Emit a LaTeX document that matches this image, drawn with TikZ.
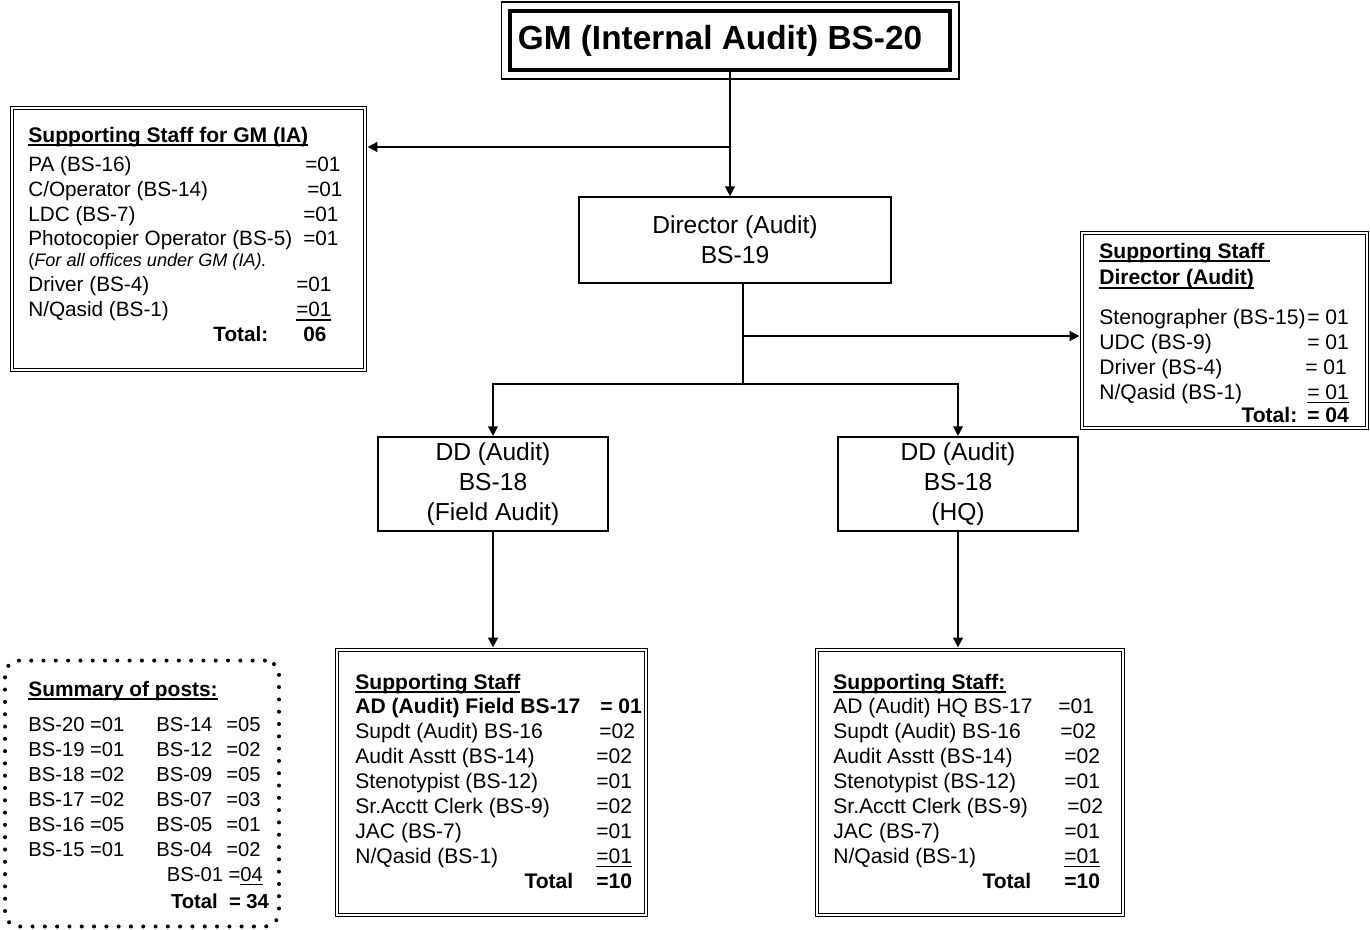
\documentclass[tikz,border=0pt]{standalone}
\usepackage{fontspec}
\setmainfont{Liberation Sans}
\usepackage{array}
\usetikzlibrary{arrows.meta,positioning,calc}
\newcommand{\staffline}[1]{\leavevmode\setbox0\hbox{#1}\rlap{\rule[-2.3pt]{\wd0}{1pt}}\box0}

\begin{document}
\begin{tikzpicture}[
    x=0.02cm,y=-0.02cm,
    >={Triangle[length=5.5pt,width=5.5pt]},
    link/.style={line width=1pt},
    officebox/.style={draw,line width=1pt,align=center,font=\fontsize{14}{17}\selectfont},
    staffbox/.style={draw,line width=0.6pt,double,double distance=1.3pt},
    summarybox/.style={draw,line width=2.3pt,line cap=round,dash pattern=on 0pt off 7pt,rounded corners=8pt},
    stafftext/.style={anchor=base west,inner sep=0pt,font=\fontsize{12}{14.17}\selectfont}
]
\useasboundingbox (0,0) rectangle (1370,930);

% Head office
\node[draw,line width=2.3pt,minimum width=8.8cm,minimum height=1.18cm,font=\bfseries\fontsize{19}{22}\selectfont] (gm) at (730,40.5) {GM (Internal Audit) BS-20\hspace*{0.4cm}};
\draw[line width=0.6pt] ([shift={(-7,-7)}]gm.north west) rectangle ([shift={(7,7)}]gm.south east);

% Director and deputy directors
\node[officebox,minimum width=6.24cm,minimum height=1.72cm] (director) at (735,240) {Director (Audit)\\BS-19};
\node[officebox,minimum width=4.6cm,minimum height=1.88cm] (ddfield) at (493,484) {DD (Audit)\\BS-18\\(Field Audit)};
\node[officebox,minimum width=4.8cm,minimum height=1.88cm] (ddhq) at (958,484) {DD (Audit)\\BS-18\\(HQ)};

% Staff frames
\node[staffbox,minimum width=7.06cm,minimum height=5.24cm] (gmstaff) at (188.5,239) {};
\node[staffbox,minimum width=5.7cm,minimum height=3.9cm] (dirstaff) at (1224.5,330.5) {};
\node[staffbox,minimum width=6.18cm,minimum height=5.3cm] (fieldstaff) at (491.5,782.5) {};
\node[staffbox,minimum width=6.12cm,minimum height=5.3cm] (hqstaff) at (970,782.5) {};
\node[summarybox,minimum width=5.48cm,minimum height=5.32cm] (summary) at (142,793.5) {};

% Staff for GM
\node[stafftext,font=\fontsize{11.8}{14.17}\selectfont] (gmstafftxt) at (28,142) {%
\begin{tabular}[t]{@{}w{l}{5.5cm}@{}l@{}}
\multicolumn{2}{@{}l@{}}{\bfseries\fontsize{12}{14.17}\selectfont\staffline{Supporting Staff for GM (IA)}}\\[2.5pt]
PA (BS-16) & \hspace{0.04cm}=01\\
C/Operator (BS-14) & \hspace{0.08cm}=01\\
LDC (BS-7) & =01\\
Photocopier Operator (BS-5) & =01\\[-2.3pt]
\multicolumn{2}{@{}l@{}}{\fontsize{10.3}{12}\selectfont(\textit{For all offices under GM (IA).}}\\
Driver (BS-4) & \hspace{-0.14cm}=01\\
N/Qasid (BS-1) & \hspace{-0.14cm}\staffline{=01}\\
\hfill\textbf{Total:}\hspace*{0.7cm} & \textbf{06}
\end{tabular}};

% Staff for director
\node[stafftext] (dirstafftxt) at (1099,258) {%
\begin{tabular}[t]{@{}w{l}{4.16cm}@{}l@{}}
\multicolumn{2}{@{}l@{}}{\bfseries\staffline{Supporting Staff\ }}\\[1.1pt]
\multicolumn{2}{@{}l@{}}{\bfseries\staffline{Director (Audit)}}\\[8.5pt]
Stenographer (BS-15) & = 01\\
UDC (BS-9) & = 01\\
Driver (BS-4) & \hspace{-0.04cm}= 01\\
N/Qasid (BS-1) & \staffline{= 01}\\[-1.1pt]
\hfill\textbf{Total:}\hspace*{0.2cm} & \textbf{= 04}
\end{tabular}};

% Staff for field audit
\node[stafftext] (fieldtxt) at (355,689) {%
\begin{tabular}[t]{@{}w{l}{4.82cm}@{}l@{}}
\multicolumn{2}{@{}l@{}}{\bfseries\staffline{Supporting Staff}}\\
\textbf{AD (Audit) Field BS-17} & \hspace{0.08cm}\textbf{= 01}\\
Supdt (Audit) BS-16 & \hspace{0.06cm}=02\\
Audit Asstt (BS-14) & =02\\
Stenotypist (BS-12) & =01\\
Sr.Acctt Clerk (BS-9) & =02\\
JAC (BS-7) & =01\\
N/Qasid (BS-1) & \staffline{=01}\\
\hfill\textbf{Total}\hspace*{0.46cm} & \textbf{=10}
\end{tabular}};

% Staff for HQ
\node[stafftext] (hqtxt) at (833,689) {%
\begin{tabular}[t]{@{}w{l}{4.62cm}@{}l@{}}
\multicolumn{2}{@{}l@{}}{\bfseries\staffline{Supporting Staff:}}\\
AD (Audit) HQ BS-17 & \hspace{-0.12cm}=01\\
Supdt (Audit) BS-16 & \hspace{-0.08cm}=02\\
Audit Asstt (BS-14) & =02\\
Stenotypist (BS-12) & =01\\
Sr.Acctt Clerk (BS-9) & \hspace{0.06cm}=02\\
JAC (BS-7) & =01\\
N/Qasid (BS-1) & \staffline{=01}\\
\hfill\textbf{Total}\hspace*{0.66cm} & \textbf{=10}
\end{tabular}};

% Summary of posts
\node[stafftext,font=\fontsize{11.5}{14.17}\selectfont] (summarytxt) at (28,696) {%
\begin{tabular}[t]{@{}w{l}{2.56cm}@{}w{l}{1.4cm}@{}l@{}}
\multicolumn{3}{@{}l@{}}{\bfseries\fontsize{11.9}{14.17}\selectfont\staffline{Summary of posts:}}\\[6.3pt]
BS-20 =01 & BS-14 & =05\\
BS-19 =01 & BS-12 & =02\\
BS-18 =02 & BS-09 & =05\\
BS-17 =02 & BS-07 & =03\\
BS-16 =05 & BS-05 & =01\\
BS-15 =01 & BS-04 & =02\\
 & \multicolumn{2}{r@{}}{BS-01 =\staffline{04}}\\[1.1pt]
 & \multicolumn{2}{r@{}}{\bfseries Total\ \ = 34\hspace*{-0.12cm}}
\end{tabular}};

% Links
\coordinate (gmbranch) at (730,147);
\coordinate (dirbranch) at (743,336);
\coordinate (dirsplit) at (743,384);
\draw[link,->] (gm.south) -- (director.north -| gm.south);
\draw[link,->,shorten >=1.2pt] (gmbranch) -- (gmstaff.east |- gmbranch);
\draw[link] (director.south -| dirsplit) -- (dirsplit);
\draw[link,->,shorten >=1.2pt] (dirbranch) -- (dirstaff.west |- dirbranch);
\draw[link,->] (dirsplit) -| (ddfield.north);
\draw[link,->] (dirsplit) -| (ddhq.north);
\draw[link,->,shorten >=1.2pt] (ddfield.south) -- (fieldstaff.north -| ddfield.south);
\draw[link,->,shorten >=1.2pt] (ddhq.south) -- (hqstaff.north -| ddhq.south);
\end{tikzpicture}
\end{document}
